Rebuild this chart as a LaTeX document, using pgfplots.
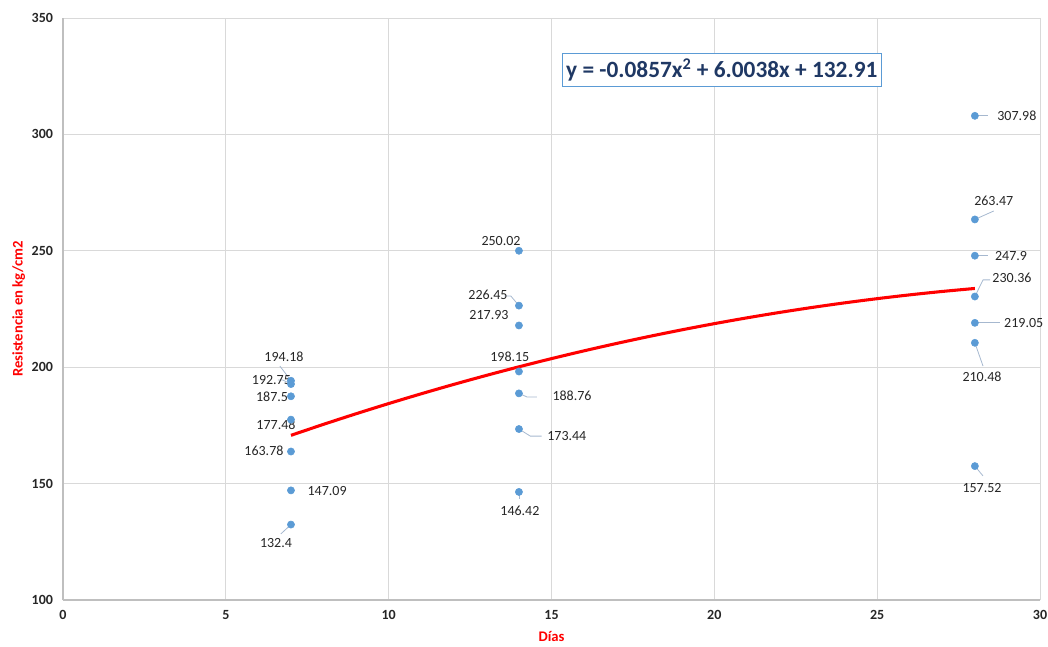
\documentclass[border=0pt]{standalone}
\usepackage{fontspec}
\setmainfont{Carlito}
\usepackage{pgfplots}
\pgfplotsset{compat=1.18}
\definecolor{ptblue}{HTML}{5B9BD5}
\definecolor{gridc}{HTML}{D9D9D9}
\definecolor{axc}{HTML}{BFBFBF}
\definecolor{lead}{HTML}{A6B8CF}
\definecolor{eqc}{HTML}{1F3864}
\begin{document}
\begin{tikzpicture}
\begin{axis}[
  name=ax,
  scale only axis, width=732.75pt, height=436.5pt,
  xmin=0, xmax=30, ymin=100, ymax=350,
  xtick={0,5,...,30}, ytick={100,150,...,350},
  grid=major, major grid style={gridc, line width=0.6pt},
  axis line style={axc, line width=0.8pt},
  axis lines*=left,
  tick style={draw=none},
  ticklabel style={font=\bfseries\fontsize{10.5}{12}\selectfont, text=black!85},
  yticklabel style={xshift=-4pt},
  xticklabel style={yshift=-4pt},
  /pgf/number format/assume math mode=true,
  xlabel={Días}, ylabel={Resistencia en kg/cm2},
  label style={font=\bfseries\fontsize{11}{12}\selectfont, text=red},
  xlabel style={yshift=-2pt}, ylabel style={yshift=-2pt},
  clip=false,
]
\addplot[red, line width=2.3pt, smooth] coordinates {
(7,170.737)(8,175.456)(9,180.003)(10,184.378)(11,188.582)(12,192.615)(13,196.476)(14,200.166)(15,203.685)(16,207.032)(17,210.207)(18,213.212)(19,216.045)(20,218.706)(21,221.196)(22,223.515)(23,225.662)(24,227.638)(25,229.443)(26,231.076)(27,232.537)(28,233.828)};
\addplot[only marks, mark=*, mark size=2.7pt, mark options={fill=ptblue, draw=ptblue}] coordinates {
(7,194.18)(7,192.75)(7,187.5)(7,177.48)(7,163.78)(7,147.09)(7,132.4)
(14,250.02)(14,226.45)(14,217.93)(14,198.15)(14,188.76)(14,173.44)(14,146.42)
(28,307.98)(28,263.47)(28,247.9)(28,230.36)(28,219.05)(28,210.48)(28,157.52)};
% leader lines
\begin{scope}[lead, line width=0.6pt]
\draw (axis cs:7,194.18) -- (axis cs:6.66,200.5);
\draw (axis cs:7,192.75) -- (axis cs:6.75,194.5) -- (axis cs:6.6,194.5);
\draw (axis cs:7,132.4) -- (axis cs:6.69,128.4);
\draw (axis cs:14,226.45) -- (axis cs:13.75,230.6) -- (axis cs:13.55,230.6);
\draw (axis cs:14,188.76) -- (axis cs:14.25,187.2) -- (axis cs:14.55,187.2);
\draw (axis cs:14,173.44) -- (axis cs:14.35,170.4) -- (axis cs:14.7,170.4);
\draw (axis cs:14,146.42) -- (axis cs:14,143.5);
\draw (axis cs:28,307.98) -- (axis cs:28.4,307.98);
\draw (axis cs:28,263.47) -- (axis cs:28.58,267.1);
\draw (axis cs:28,247.9) -- (axis cs:28.4,247.9);
\draw (axis cs:28,230.36) -- (axis cs:28.25,237.5) -- (axis cs:28.47,237.5);
\draw (axis cs:28,219.05) -- (axis cs:28.77,219.05);
\draw (axis cs:28,210.48) -- (axis cs:28.25,200.5);
\draw (axis cs:28,157.52) -- (axis cs:28.25,153.3);
\end{scope}
% data labels
\begin{scope}[every node/.style={font=\fontsize{10.5}{12}\selectfont, text=black!85, inner sep=0pt}]
\node at (axis cs:6.785,204.4) {194.18};
\node at (axis cs:6.40,194.5) {192.75};
\node at (axis cs:6.42,187.2) {187.5};
\node at (axis cs:6.54,175.2) {177.48};
\node at (axis cs:6.17,164.0) {163.78};
\node at (axis cs:8.11,146.8) {147.09};
\node at (axis cs:6.54,124.5) {132.4};
\node at (axis cs:13.45,254.2) {250.02};
\node at (axis cs:13.05,231.0) {226.45};
\node at (axis cs:13.08,222.4) {217.93};
\node at (axis cs:13.72,204.4) {198.15};
\node at (axis cs:15.63,187.6) {188.76};
\node at (axis cs:15.47,170.4) {173.44};
\node at (axis cs:14.03,138.2) {146.42};
\node at (axis cs:29.29,307.9) {307.98};
\node at (axis cs:28.58,271.4) {263.47};
\node at (axis cs:29.11,247.8) {247.9};
\node at (axis cs:29.14,238.3) {230.36};
\node at (axis cs:29.5,219.0) {219.05};
\node at (axis cs:28.22,195.8) {210.48};
\node at (axis cs:28.22,148.1) {157.52};
\end{scope}
\node[draw=ptblue, line width=0.9pt, fill=white, text=eqc, font=\bfseries\fontsize{17.5}{20}\selectfont, inner xsep=3pt, inner ysep=4pt] at (axis cs:20.23,327.7) {y = -0.0857x\textsuperscript{2} + 6.0038x + 132.91};
\end{axis}
\pgfresetboundingbox
\path ([shift={(-47.25pt,-34.5pt)}]ax.south west) rectangle ([shift={(6pt,13.5pt)}]ax.north east);
\end{tikzpicture}
\end{document}
